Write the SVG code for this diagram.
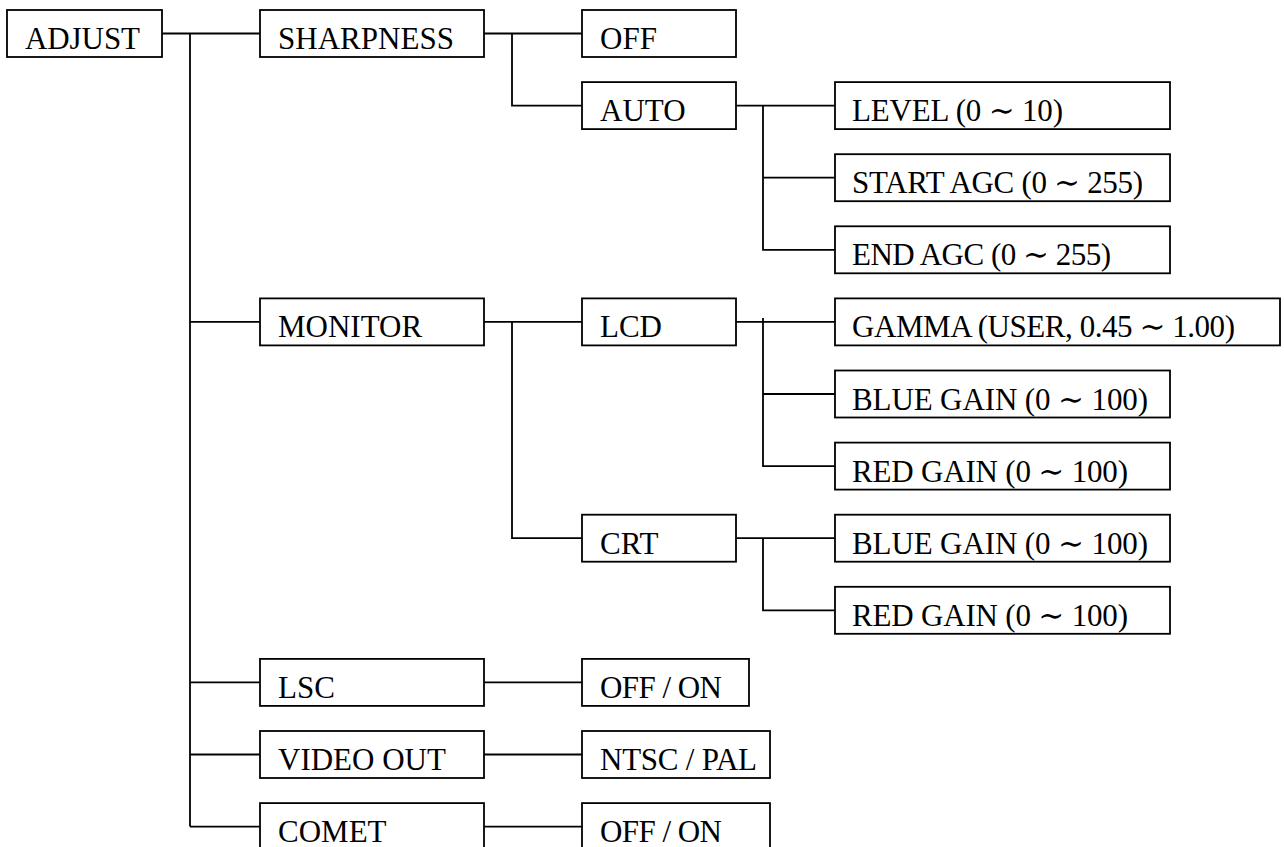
<svg xmlns="http://www.w3.org/2000/svg" width="1284" height="847" viewBox="0 0 1284 847">
<style>
rect{fill:#fff;stroke:#000;stroke-width:1.8}
text{font-family:"Liberation Serif","DejaVu Serif","Noto Sans CJK JP",serif;font-size:31px;fill:#000}
#connectors path{fill:none;stroke:#000;stroke-width:1.8}
</style>
<rect x="0" y="0" width="1284" height="847" style="stroke:none"/>
<g id="connectors">
<path d="M162 33.5H260M190 33.5V826.6M190 321.9H260M190 682.4H260M190 754.5H260M190 826.6H260"/>
<path d="M484 33.5H582M512 33.5V105.6H582"/>
<path d="M484 321.9H582M512 321.9V538.2H582"/>
<path d="M484 682.4H582M484 754.5H582M484 826.6H582"/>
<path d="M736 105.6H835M763 105.6V249.8H835M763 177.7H835"/>
<path d="M736 321.9H835M763 318V466.1H835M763 394H835"/>
<path d="M736 538.2H835M763 538.2V610.3H835"/>
</g>
<g id="adjust"><rect x="7" y="10" width="155" height="47"/><text x="25" y="49" textLength="115">ADJUST</text></g>
<g id="sharpness"><rect x="260" y="10" width="224" height="47"/><text x="278" y="49" textLength="176">SHARPNESS</text></g>
<g id="sharp_off"><rect x="582" y="10" width="154" height="47"/><text x="600" y="49">OFF</text></g>
<g id="auto"><rect x="582" y="82.1" width="154" height="47"/><text x="600" y="121.1">AUTO</text></g>
<g id="level"><rect x="835" y="82.1" width="335" height="47"/><text x="852" y="121.1" textLength="211">LEVEL (0 ∼ 10)</text></g>
<g id="start_agc"><rect x="835" y="154.2" width="335" height="47"/><text x="852" y="193.2" textLength="291">START AGC (0 ∼ 255)</text></g>
<g id="end_agc"><rect x="835" y="226.3" width="335" height="47"/><text x="852" y="265.3" textLength="259">END AGC (0 ∼ 255)</text></g>
<g id="monitor"><rect x="260" y="298.4" width="224" height="47"/><text x="278" y="337.4">MONITOR</text></g>
<g id="lcd"><rect x="582" y="298.4" width="154" height="47"/><text x="600" y="337.4">LCD</text></g>
<g id="gamma"><rect x="835" y="298.4" width="445" height="47"/><text x="852" y="337.4" textLength="383">GAMMA (USER, 0.45 ∼ 1.00)</text></g>
<g id="lcd_blue"><rect x="835" y="370.5" width="335" height="47"/><text x="852" y="409.5" textLength="296">BLUE GAIN (0 ∼ 100)</text></g>
<g id="lcd_red"><rect x="835" y="442.6" width="335" height="47"/><text x="852" y="481.6" textLength="276">RED GAIN (0 ∼ 100)</text></g>
<g id="crt"><rect x="582" y="514.7" width="154" height="47"/><text x="600" y="553.7">CRT</text></g>
<g id="crt_blue"><rect x="835" y="514.7" width="335" height="47"/><text x="852" y="553.7" textLength="296">BLUE GAIN (0 ∼ 100)</text></g>
<g id="crt_red"><rect x="835" y="586.8" width="335" height="47"/><text x="852" y="625.8" textLength="276">RED GAIN (0 ∼ 100)</text></g>
<g id="lsc"><rect x="260" y="658.9" width="224" height="47"/><text x="278" y="697.9">LSC</text></g>
<g id="lsc_val"><rect x="582" y="658.9" width="167" height="47"/><text x="600" y="697.9" textLength="122">OFF / ON</text></g>
<g id="video_out"><rect x="260" y="731" width="224" height="47"/><text x="278" y="770">VIDEO OUT</text></g>
<g id="video_val"><rect x="582" y="731" width="188" height="47"/><text x="600" y="770" textLength="157">NTSC / PAL</text></g>
<g id="comet"><rect x="260" y="803.1" width="224" height="47"/><text x="278" y="842.1">COMET</text></g>
<g id="comet_val"><rect x="582" y="803.1" width="188" height="47"/><text x="600" y="842.1" textLength="122">OFF / ON</text></g>
</svg>
